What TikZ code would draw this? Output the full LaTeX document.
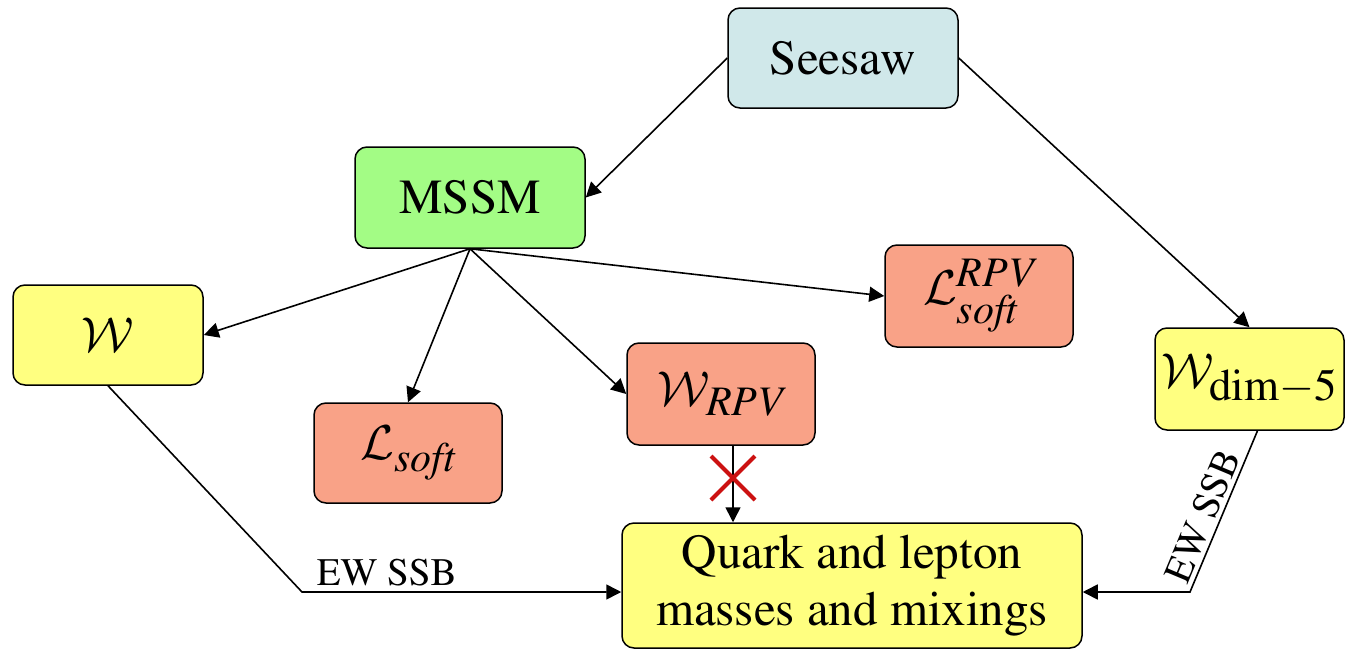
\documentclass[tikz,border=0pt]{standalone}
\usepackage{fix-cm}
\usepackage{amsmath}
\usepackage[T1]{fontenc}
\usepackage{times}
\usetikzlibrary{arrows.meta,calc,positioning,shapes.misc}

\definecolor{seesawblue}{HTML}{D0E8EA}
\definecolor{mssmgreen}{HTML}{A3FC85}
\definecolor{boxyellow}{HTML}{FFFF80}
\definecolor{rpvsalmon}{HTML}{F9A287}
\definecolor{crossred}{HTML}{CC1111}

\newcommand{\subtxt}[1]{\text{\fontsize{21}{22}\selectfont\itshape #1}}
\newcommand{\dimtxt}[1]{\text{\fontsize{22.5}{24}\selectfont #1}}

\begin{document}
\begin{tikzpicture}[
    x=0.5pt, y=-0.5pt,
    >={Triangle[length=7.5pt,width=7.5pt]},
    box/.style   = {draw, line width=0.75pt, rounded corners=6pt,
                    inner sep=0pt, align=center,
                    font=\fontsize{24.5}{28.5}\selectfont},
    trans/.style = {line width=0.8pt,->},
    lbl/.style   = {font=\fontsize{19.5}{22}\selectfont, inner sep=2pt}
  ]

  \useasboundingbox (0,0) rectangle (1346,649);

  \node[box, fill=seesawblue, minimum width=115pt, minimum height=50pt] (S)  at (843,58)     {Seesaw};
  \node[box, fill=mssmgreen,  minimum width=115pt, minimum height=50.5pt] (M) at (470,197.5) {MSSM};

  \node[box, fill=boxyellow, minimum width=95pt, minimum height=50pt] (W)  at (108,335)  {$\mathcal{W}$};
  \node[box, fill=rpvsalmon, minimum width=94pt, minimum height=50pt] (LS) at (408,453)  {$\mathcal{L}_{\subtxt{soft}}$};
  \node[box, fill=rpvsalmon, minimum width=94pt, minimum height=51pt] (WR) at (721,394)  {$\mathcal{W}_{\subtxt{RPV}}$};
  \node[box, fill=rpvsalmon, minimum width=94pt, minimum height=51pt] (LR) at (979,296)  {$\mathcal{L}^{\subtxt{RPV}}_{\subtxt{soft}}$};
  \node[box, fill=boxyellow, minimum width=94.5pt, minimum height=51pt] (W5) at (1249.5,379) {$\mathcal{W}_{\dimtxt{dim$-$5}}$};

  \node[box, fill=boxyellow, minimum width=230pt, minimum height=62.5pt] (Q) at (852,585.5)
       {Quark and lepton\\masses and mixings};

  % seesaw feeds both branches
  \draw[trans] (S.west) -- (M.east);
  \draw[trans] (S.east) -- (W5.north);

  % MSSM pieces
  \draw[trans] (M.south) -- (W.east);
  \draw[trans] (M.south) -- (LS.north);
  \draw[trans] (M.south) -- (WR.west);
  \draw[trans] (M.south) -- (LR.west);

  % RPV superpotential is cut off
  \coordinate (xa) at ($(WR.south)+(12,0)$);
  \draw[trans] (xa) -- (xa |- Q.north);
  \node[cross out, draw=crossred, line width=2pt, minimum size=20pt, inner sep=0pt] (cut) at (733,478) {};

  % electroweak breaking
  \coordinate (kinkL) at (302,592);
  \coordinate (kinkR) at (1190,592);
  \coordinate (inL) at ($(Q.west)+(0,6.5)$);
  \coordinate (inR) at ($(Q.east)+(0,6.5)$);
  \coordinate (w5out) at ($(W5.south)+(8,0)$);

  \draw[trans] (W.south) -- (kinkL)
       node[lbl, anchor=base west, xshift=5pt, yshift=3.5pt] {EW SSB} -- (inL);
  \draw[trans] (w5out) -- node[lbl, sloped, above, pos=0.57] {EW SSB} (kinkR) -- (inR);

\end{tikzpicture}
\end{document}
